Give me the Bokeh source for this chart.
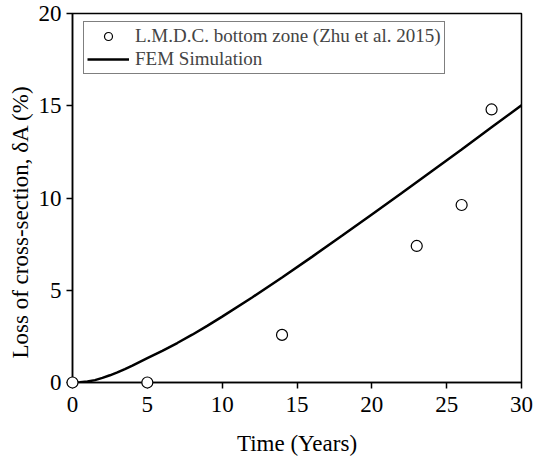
from bokeh.plotting import figure
from bokeh.models import Range1d, FixedTicker, Legend, LegendItem, Title
from bokeh.embed import file_html
from bokeh.resources import INLINE

# Measured data (L.M.D.C. bottom zone, Zhu et al. 2015)
obs_years = [0, 5, 14, 23, 26, 28]
obs_loss = [0.0, 0.0, 2.58, 7.4, 9.62, 14.8]

# FEM simulation curve
fem_years = [0, 0.5, 1, 1.5, 2, 2.5, 3, 3.5, 4, 4.5, 5, 6, 7, 8, 9, 10, 12, 14, 16, 18, 20, 22, 24, 26, 28, 30]
fem_loss = [0.0, 0.01, 0.05, 0.13, 0.25, 0.39, 0.55, 0.73, 0.92, 1.12, 1.32, 1.72, 2.14, 2.59, 3.07, 3.57,
            4.61, 5.69, 6.81, 7.95, 9.11, 10.27, 11.45, 12.63, 13.83, 15.03]

x_ticks = [0, 5, 10, 15, 20, 25, 30]
y_ticks = [0, 5, 10, 15, 20]

FONT = "Liberation Serif"

p = figure(width=533, height=459, output_backend="svg", toolbar_location=None,
           x_range=Range1d(0, 30), y_range=Range1d(0, 20),
           min_border_left=72, min_border_right=12, min_border_top=13, min_border_bottom=77)
p.grid.visible = False
p.outline_line_color = "black"
p.outline_line_width = 1.5

for ax in (p.xaxis[0], p.yaxis[0]):
    ax.axis_line_width = 1.5
    ax.major_tick_line_width = 1.5
    ax.major_tick_out = 6
    ax.major_tick_in = 0
    ax.minor_tick_line_color = None
    ax.major_label_text_font = FONT
    ax.major_label_text_font_size = "23px"
    ax.major_label_text_color = "black"
    ax.axis_label_text_font = FONT
    ax.axis_label_text_font_size = "23px"
    ax.axis_label_text_font_style = "normal"
    ax.axis_label_text_color = "black"

p.xaxis.ticker = FixedTicker(ticks=x_ticks)
p.yaxis.ticker = FixedTicker(ticks=y_ticks)
p.xaxis.axis_label = "Time (Years)"
p.xaxis.major_label_standoff = 8
p.yaxis.major_label_standoff = 5
p.xaxis.axis_label_standoff = 16

# y-axis title as a left-side title, shifted to sit below the frame centre like the reference
ytitle = Title(text="Loss of cross-section, δA (%)", align="left", offset=24,
               text_font=FONT, text_font_size="23px", text_font_style="normal",
               text_color="black", standoff=6)
p.add_layout(ytitle, "left")

line_r = p.line(fem_years, fem_loss, line_color="black", line_width=2.5)
pts_r = p.scatter(obs_years, obs_loss, marker="circle", size=11, fill_color="white",
                  line_color="black", line_width=1.2, level="overlay")

legend = Legend(items=[
    LegendItem(label="L.M.D.C. bottom zone (Zhu et al. 2015)", renderers=[pts_r]),
    LegendItem(label="FEM Simulation", renderers=[line_r]),
], location=(11, 308))
legend.label_text_font = FONT
legend.label_text_font_size = "19px"
legend.label_height = 20
legend.glyph_width = 42
legend.glyph_height = 20
legend.spacing = 1
legend.padding = 3
legend.margin = 0
legend.label_standoff = 6
legend.border_line_color = "black"
legend.border_line_width = 1
legend.background_fill_alpha = 1
p.add_layout(legend, "center")

open("out.html", "w").write(file_html(p, INLINE))
